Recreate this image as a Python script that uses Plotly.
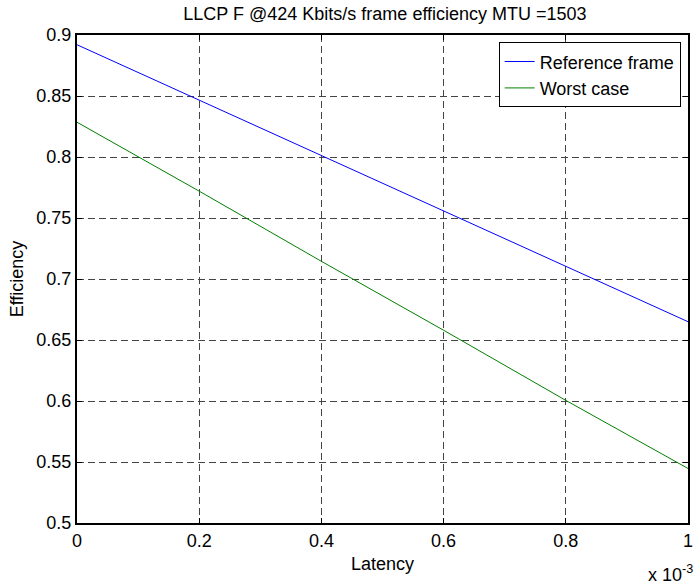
import plotly.graph_objects as go

# Latency in units of 1e-3 (axis shows "x 10^-3")
latency = [0.0, 0.2, 0.4, 0.6, 0.8, 1.0]
reference_frame = [0.892, 0.8465, 0.801, 0.7557, 0.7105, 0.665]
worst_case = [0.8285, 0.772, 0.7145, 0.658, 0.6005, 0.5447]

x_ticks = [0, 0.2, 0.4, 0.6, 0.8, 1]
x_ticklabels = ["0", "0.2", "0.4", "0.6", "0.8", "1"]
y_ticks = [0.5, 0.55, 0.6, 0.65, 0.7, 0.75, 0.8, 0.85, 0.9]
y_ticklabels = ["0.5", "0.55", "0.6", "0.65", "0.7", "0.75", "0.8", "0.85", "0.9"]

FONT = "Liberation Sans, Arial, sans-serif"
fs = 18

fig = go.Figure()
fig.add_trace(go.Scatter(x=latency, y=reference_frame, mode="lines",
                         name="Reference frame", line=dict(color="#0000ff", width=1)))
fig.add_trace(go.Scatter(x=latency, y=worst_case, mode="lines",
                         name="Worst case", line=dict(color="#008000", width=1)))

axis_common = dict(
    showline=True, linecolor="black", linewidth=2, mirror="ticks",
    ticks="inside", ticklen=5, tickwidth=1, tickcolor="black",
    showgrid=True, gridcolor="#444444", gridwidth=1, griddash="7px,4px",
    zeroline=False, tickfont=dict(family=FONT, size=fs, color="black"),
)

fig.update_xaxes(range=[0, 1], tickvals=x_ticks, ticktext=x_ticklabels,
                 title=dict(text="Latency", font=dict(family=FONT, size=fs, color="black"), standoff=8),
                 **axis_common)
fig.update_yaxes(range=[0.5, 0.9], tickvals=y_ticks, ticktext=y_ticklabels,
                 title=dict(text="Efficiency", font=dict(family=FONT, size=fs, color="black"), standoff=8),
                 **axis_common)

fig.update_layout(
    width=700, height=587,
    margin=dict(l=77, r=7, t=35, b=64),
    paper_bgcolor="white", plot_bgcolor="white",
    font=dict(family=FONT, size=fs, color="black"),
    title=dict(text="LLCP F @424 Kbits/s frame efficiency MTU =1503",
               x=385 / 700, xanchor="center", y=1 - 14 / 587, yanchor="middle",
               font=dict(family=FONT, size=fs, color="black")),
    showlegend=True,
    legend=dict(x=0.988, xanchor="right", y=0.985, yanchor="top",
                bgcolor="white", bordercolor="black", borderwidth=1,
                font=dict(family=FONT, size=fs, color="black"),
                entrywidth=185, entrywidthmode="pixels",
                tracegroupgap=0),
    annotations=[dict(text="x 10<sup>-3</sup>", xref="paper", yref="paper",
                      x=1.012, xanchor="right", y=-0.131, yanchor="bottom",
                      showarrow=False, font=dict(family=FONT, size=fs, color="black"))],
)

fig.write_html("out.html")
